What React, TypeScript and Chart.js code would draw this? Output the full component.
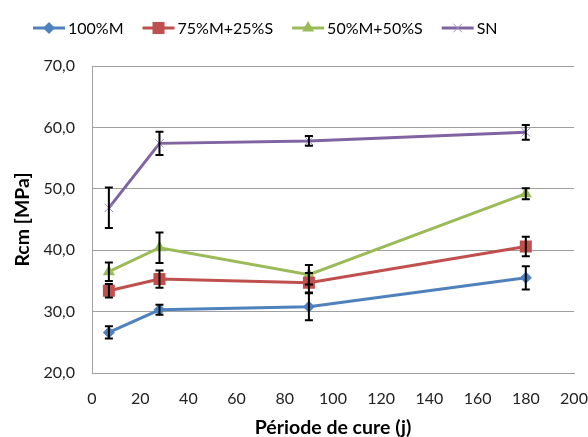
import React, { useEffect, useRef } from "react";
import { Chart, registerables } from "chart.js";

Chart.register(...registerables);

const days = [7, 28, 90, 180];
const seriesNames = ["100%M", "75%M+25%S", "50%M+50%S", "SN"];
const m100 = [26.6, 30.3, 30.8, 35.5];
const m100Err = [1.0, 0.8, 2.2, 1.9];
const m75 = [33.4, 35.3, 34.7, 40.6];
const m75Err = [1.1, 1.4, 1.6, 1.6];
const m50 = [36.5, 40.4, 36.0, 49.2];
const m50Err = [1.5, 2.5, 1.6, 0.9];
const sn = [46.9, 57.4, 57.8, 59.2];
const snErr = [3.3, 1.9, 0.8, 1.2];

const colors = ["#4F81BD", "#C0504D", "#9BBB59", "#8064A2"];
const markerColors = ["#4F81BD", "#C0504D", "#9BBB59", "#A08CC0"];
const markers = ["rectRot", "rect", "triangle", "crossRot"];
const markerRadius = [6, 8.5, 7, 6];
const values = [m100, m75, m50, sn];
const errors = [m100Err, m75Err, m50Err, snErr];

const FONT = "Lato, 'Open Sans', sans-serif";

function drawMarker(ctx: CanvasRenderingContext2D, style: string, x: number, y: number, r: number, color: string) {
  ctx.save();
  ctx.fillStyle = color;
  ctx.strokeStyle = color;
  ctx.beginPath();
  if (style === "rectRot") {
    ctx.moveTo(x, y - r);
    ctx.lineTo(x + r, y);
    ctx.lineTo(x, y + r);
    ctx.lineTo(x - r, y);
    ctx.closePath();
    ctx.fill();
  } else if (style === "rect") {
    const s = r * Math.SQRT1_2;
    ctx.rect(x - s, y - s, 2 * s, 2 * s);
    ctx.fill();
  } else if (style === "triangle") {
    const a = r * Math.sqrt(3) / 2;
    ctx.moveTo(x, y - r);
    ctx.lineTo(x + a, y + r / 2);
    ctx.lineTo(x - a, y + r / 2);
    ctx.closePath();
    ctx.fill();
  } else {
    ctx.lineWidth = 1;
    const d = r * Math.SQRT1_2;
    ctx.moveTo(x - d, y - d);
    ctx.lineTo(x + d, y + d);
    ctx.moveTo(x - d, y + d);
    ctx.lineTo(x + d, y - d);
    ctx.stroke();
  }
  ctx.restore();
}

const legendPlugin = {
  id: "customLegend",
  afterDraw(chart: any) {
    const ctx = chart.ctx as CanvasRenderingContext2D;
    ctx.save();
    ctx.font = `16px ${FONT}`;
    ctx.textBaseline = "middle";
    ctx.textAlign = "left";
    let x = 33;
    const y = 28;
    seriesNames.forEach((name, i) => {
      ctx.strokeStyle = colors[i];
      ctx.lineWidth = 3;
      ctx.beginPath();
      ctx.moveTo(x, y);
      ctx.lineTo(x + 32, y);
      ctx.stroke();
      drawMarker(ctx, markers[i], x + 16, y, markerRadius[i], markerColors[i]);
      ctx.fillStyle = "#000";
      ctx.fillText(name, x + 35, y + 1);
      x += 35 + ctx.measureText(name).width + 19;
    });
    ctx.restore();
  },
};

const errorBarPlugin = {
  id: "errorBars",
  afterDatasetsDraw(chart: any) {
    const ctx = chart.ctx as CanvasRenderingContext2D;
    const xs = chart.scales.x;
    const ys = chart.scales.y;
    ctx.save();
    ctx.strokeStyle = "#000";
    ctx.lineWidth = 2;
    values.forEach((vals, i) => {
      vals.forEach((v, j) => {
        const e = errors[i][j];
        const px = xs.getPixelForValue(days[j]);
        const top = ys.getPixelForValue(v + e);
        const bot = ys.getPixelForValue(v - e);
        ctx.beginPath();
        ctx.moveTo(px, top);
        ctx.lineTo(px, bot);
        ctx.moveTo(px - 4, top);
        ctx.lineTo(px + 4, top);
        ctx.moveTo(px - 4, bot);
        ctx.lineTo(px + 4, bot);
        ctx.stroke();
      });
    });
    ctx.restore();
  },
};

export default function App() {
  const ref = useRef<HTMLCanvasElement>(null);
  useEffect(() => {
    if (!ref.current) return;
    const chart = new Chart(ref.current, {
      type: "line",
      data: {
        datasets: values.map((vals, i) => ({
          label: seriesNames[i],
          data: vals.map((v, j) => ({ x: days[j], y: v })),
          borderColor: colors[i],
          backgroundColor: markerColors[i],
          borderWidth: 3,
          pointStyle: markers[i] as any,
          pointRadius: markerRadius[i],
          pointBorderWidth: i === 3 ? 1 : 0,
          pointBorderColor: markerColors[i],
          pointBackgroundColor: markerColors[i],
          tension: 0,
          fill: false,
        })),
      },
      options: {
        animation: false,
        responsive: false,
        layout: { padding: { top: 66, right: 14, left: 0, bottom: 0 } },
        plugins: {
          legend: { display: false },
          tooltip: { enabled: false },
        },
        scales: {
          x: {
            type: "linear",
            min: 0,
            max: 200,
            ticks: {
              stepSize: 20,
              padding: 16,
              color: "#222",
              font: { family: FONT, size: 16 },
            },
            grid: { display: false, drawTicks: false, tickLength: 0 },
            border: { display: true, color: "#A0A0A0", width: 1 },
            title: {
              display: true,
              text: "Période de cure (j)",
              color: "#000",
              font: { family: FONT, size: 19.5, weight: "bold", lineHeight: 1 },
              padding: { top: 0, bottom: 0 },
            },
            afterFit(scale: any) {
              scale.height = 64;
              scale.paddingLeft = 0;
              scale.paddingRight = 0;
            },
          },
          y: {
            min: 20,
            max: 70,
            ticks: {
              stepSize: 10,
              padding: 17,
              color: "#222",
              font: { family: FONT, size: 16 },
              callback: (v: any) => Number(v).toFixed(1).replace(".", ","),
            },
            grid: { display: true, color: "#A0A0A0", lineWidth: 1, drawTicks: false, tickLength: 0 },
            border: { display: true, color: "#A0A0A0", width: 1 },
            title: {
              display: true,
              text: "Rcm [MPa]",
              color: "#000",
              font: { family: FONT, size: 19.5, weight: "bold", lineHeight: 1 },
              padding: { top: 13, bottom: 0 },
            },
            afterFit(scale: any) {
              scale.width = 92;
              scale.paddingTop = 0;
              scale.paddingBottom = 0;
            },
          },
        },
      },
      plugins: [legendPlugin, errorBarPlugin],
    });
    return () => chart.destroy();
  }, []);
  return (
    <div style={{ position: "absolute", left: 0, top: 0, width: 588, height: 437, background: "#fff" }}>
      <canvas ref={ref} width={588} height={437} style={{ display: "block" }} />
    </div>
  );
}
